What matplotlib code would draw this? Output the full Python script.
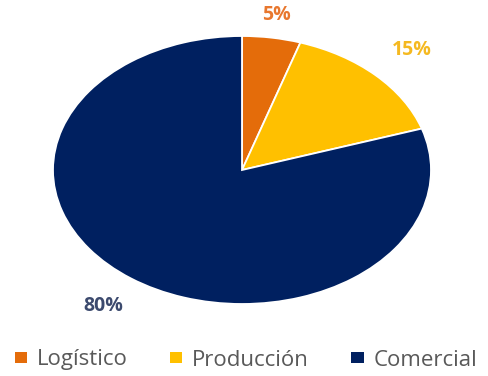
import numpy as np
import matplotlib.pyplot as plt
from matplotlib.patches import Rectangle

# --- data ---
areas = ['Logístico', 'Producción', 'Comercial']
shares = [5, 15, 80]
colors = ['#E46C0A', '#FFC000', '#002060']
label_colors = ['#E8772E', '#F5B921', '#3C4A6E']
label_radius = [1.17, 1.27, 1.25]

plt.rcParams['font.family'] = ['Open Sans', 'DejaVu Sans']

W, H = 488, 376
fig = plt.figure(figsize=(W / 100, H / 100), dpi=100)

# pie drawn in a stretched axes so it comes out as an ellipse
left, right, top, bottom = 53, 431, 36, 304
ax = fig.add_axes([left / W, 1 - bottom / H, (right - left) / W, (bottom - top) / H])
wedges, _ = ax.pie(shares, colors=colors, startangle=90, counterclock=False,
                   wedgeprops=dict(edgecolor='white', linewidth=1.3))
ax.set_aspect('auto')
ax.set_xlim(-1, 1)
ax.set_ylim(-1, 1)
ax.axis('off')

# percentage labels outside each slice
for w, v, c, r in zip(wedges, shares, label_colors, label_radius):
    ang = np.deg2rad((w.theta1 + w.theta2) / 2)
    ax.text(r * np.cos(ang), r * np.sin(ang), f'{v}%', ha='center', va='center',
            fontsize=14, fontweight='bold', color=c, clip_on=False)

handles = [Rectangle((0, 0), 1, 1, facecolor=c, edgecolor='none') for c in colors]
fig.legend(handles, areas, loc='center', bbox_to_anchor=(0.504, 1 - 360 / H),
           ncol=3, frameon=False, fontsize=16, labelcolor='#595959',
           handletextpad=0.45, columnspacing=1.9, handlelength=0.55, handleheight=0.32,
           borderpad=0.2)

fig.savefig('out.png', dpi=100)
